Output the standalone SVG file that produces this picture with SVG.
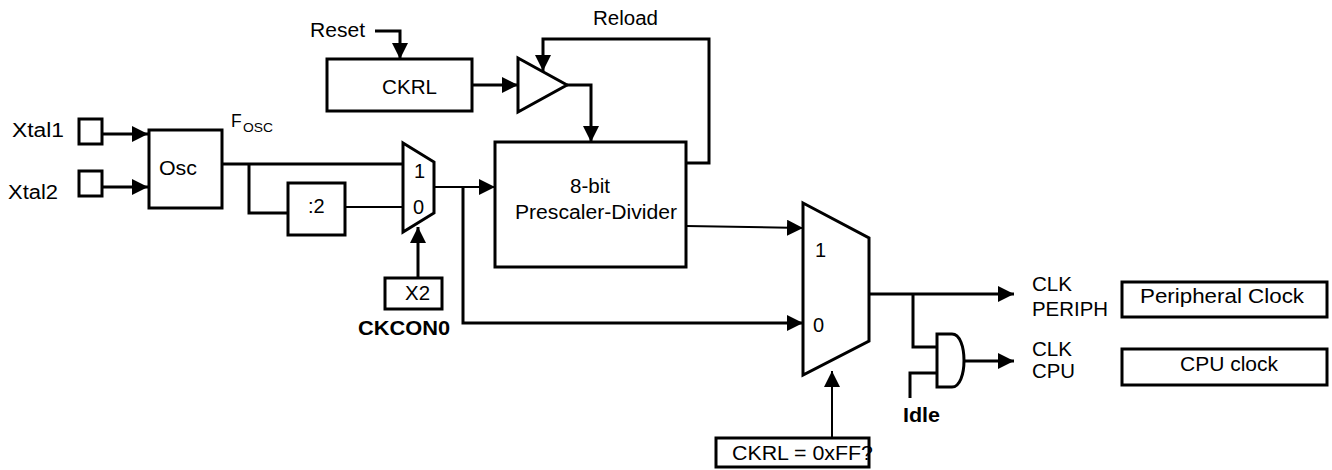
<svg xmlns="http://www.w3.org/2000/svg" width="1332" height="470" viewBox="0 0 1332 470">
<style>
text{font-family:"Liberation Sans",Arial,sans-serif;font-size:20px;fill:#000}
.b{font-weight:bold}
.box{fill:#fff;stroke:#000;stroke-width:3}
.w{fill:none;stroke:#000;stroke-width:3}
.t{fill:none;stroke:#000;stroke-width:2}
</style>
<defs>
<marker id="ah" markerUnits="userSpaceOnUse" markerWidth="16" markerHeight="16" refX="16" refY="8" orient="auto">
<path d="M0,0 L16,8 L0,16 Z" fill="#000"/>
</marker>
</defs>
<rect width="1332" height="470" fill="#fff"/>
<g id="connectors">
<path class="w" d="M102,134 H148" marker-end="url(#ah)"/>
<path class="w" d="M102,187 H148" marker-end="url(#ah)"/>
<path class="w" d="M222,164 H403"/>
<path class="w" d="M249,164 V213 H288"/>
<path class="t" d="M345,207 H403"/>
<path class="t" d="M434,187 H495" marker-end="url(#ah)"/>
<path class="w" d="M463,187 V323 H803" marker-end="url(#ah)"/>
<path class="w" d="M418,278 V227" marker-end="url(#ah)"/>
<path class="w" d="M375,31 H400 V59" marker-end="url(#ah)"/>
<path class="w" d="M472,85 H518" marker-end="url(#ah)"/>
<path class="w" d="M567,85 H591 V142" marker-end="url(#ah)"/>
<path class="w" d="M686,163 H709 V39 H543 V71" marker-end="url(#ah)"/>
<path class="t" d="M686,226 L803,228" marker-end="url(#ah)"/>
<path class="w" d="M869,294 H1014" marker-end="url(#ah)"/>
<path class="w" d="M913,294 V347 H937"/>
<path class="w" d="M910,398 V373 H937"/>
<path class="w" d="M964,361 H1014" marker-end="url(#ah)"/>
<path class="t" d="M832,438 V371" marker-end="url(#ah)"/>
</g>
<g id="xtal1"><rect class="box" x="79" y="119" width="23" height="25"/><text x="12" y="137" textLength="52" lengthAdjust="spacingAndGlyphs">Xtal1</text></g>
<g id="xtal2"><rect class="box" x="79" y="171" width="23" height="25"/><text x="8" y="199" textLength="50" lengthAdjust="spacingAndGlyphs">Xtal2</text></g>
<g id="osc"><rect class="box" x="149" y="130" width="73" height="78"/><text x="159" y="175" textLength="38" lengthAdjust="spacingAndGlyphs">Osc</text></g>
<g id="fosc"><text x="231" y="127" style="font-size:17.5px">F</text><text x="243" y="132" style="font-size:13px" textLength="30" lengthAdjust="spacingAndGlyphs">OSC</text></g>
<g id="div2"><rect class="box" x="288" y="183" width="57" height="52"/><text x="308" y="213">:2</text></g>
<g id="mux1"><polygon class="box" points="403,143 434,162 434,213 403,232"/><text x="414" y="178">1</text><text x="413" y="214">0</text></g>
<g id="x2"><rect class="box" x="385" y="278" width="57" height="31"/><text x="405" y="300" textLength="25" lengthAdjust="spacingAndGlyphs">X2</text><text class="b" x="358" y="335" textLength="92" lengthAdjust="spacingAndGlyphs">CKCON0</text></g>
<g id="reset"><text x="310" y="37" textLength="55" lengthAdjust="spacingAndGlyphs">Reset</text></g>
<g id="ckrl"><rect class="box" x="327" y="59" width="145" height="52"/><text x="382" y="94" textLength="55" lengthAdjust="spacingAndGlyphs">CKRL</text></g>
<g id="buffer"><polygon class="box" points="518,58 567,85 518,112"/></g>
<g id="reload"><text x="593" y="25" textLength="65" lengthAdjust="spacingAndGlyphs">Reload</text></g>
<g id="prescaler"><rect class="box" x="495" y="142" width="191" height="125"/><text x="570" y="193" textLength="40" lengthAdjust="spacingAndGlyphs">8-bit</text><text x="515" y="219" textLength="162" lengthAdjust="spacingAndGlyphs">Prescaler-Divider</text></g>
<g id="mux2"><polygon class="box" points="803,203 869,238 869,341 803,375"/><text x="815" y="257">1</text><text x="813" y="332">0</text></g>
<g id="ckrlff"><rect class="box" x="716" y="438" width="153" height="29"/><text x="732" y="460" textLength="141" lengthAdjust="spacingAndGlyphs">CKRL = 0xFF?</text></g>
<g id="and"><path class="box" d="M937,334 H952 C968,334 968,387 952,387 H937 Z"/><text class="b" x="903" y="422" textLength="37" lengthAdjust="spacingAndGlyphs">Idle</text></g>
<g id="clkperiph"><text x="1032" y="291" textLength="40" lengthAdjust="spacingAndGlyphs">CLK</text><text x="1032" y="316" textLength="76" lengthAdjust="spacingAndGlyphs">PERIPH</text></g>
<g id="clkcpu"><text x="1032" y="356" textLength="40" lengthAdjust="spacingAndGlyphs">CLK</text><text x="1032" y="378" textLength="43" lengthAdjust="spacingAndGlyphs">CPU</text></g>
<g id="periphclock"><rect class="box" x="1122" y="282" width="205" height="35"/><text x="1140" y="303" textLength="164" lengthAdjust="spacingAndGlyphs">Peripheral Clock</text></g>
<g id="cpuclock"><rect class="box" x="1122" y="349" width="205" height="36"/><text x="1180" y="371" textLength="98" lengthAdjust="spacingAndGlyphs">CPU clock</text></g>
</svg>
